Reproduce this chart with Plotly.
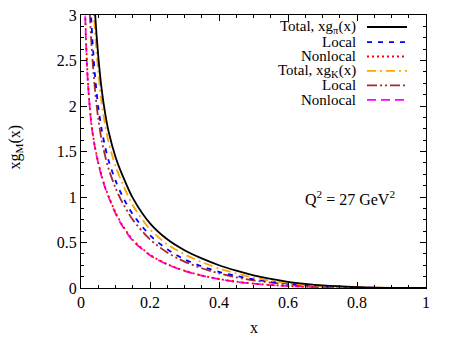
import plotly.graph_objects as go

X = [0.01, 0.015, 0.02, 0.03, 0.04, 0.05, 0.06, 0.07, 0.08, 0.10, 0.12, 0.15,
     0.20, 0.25, 0.30, 0.35, 0.40, 0.45, 0.50, 0.55, 0.60, 0.65, 0.70, 0.80, 0.90, 1.0]

total_pi = [10.0, 7.1, 5.6, 3.93, 3.07, 2.55, 2.18, 1.92, 1.72, 1.44, 1.24, 0.99,
            0.71, 0.535, 0.415, 0.325, 0.25, 0.19, 0.14, 0.10, 0.068, 0.045, 0.028, 0.010, 0.002, 0.0]
local_pi = [6.6, 4.9, 3.9, 2.93, 2.36, 1.99, 1.74, 1.55, 1.40, 1.18, 1.01, 0.81,
            0.58, 0.425, 0.315, 0.238, 0.178, 0.132, 0.096, 0.068, 0.047, 0.031, 0.019, 0.006, 0.001, 0.0]
nonlocal_pi = [3.35, 2.68, 2.27, 1.81, 1.56, 1.38, 1.23, 1.11, 1.01, 0.83, 0.69, 0.53,
               0.365, 0.262, 0.19, 0.137, 0.099, 0.07, 0.049, 0.033, 0.022, 0.014, 0.008, 0.0025, 0.0005, 0.0]
total_K = [9.0, 6.5, 5.0, 3.6, 2.85, 2.38, 2.03, 1.79, 1.60, 1.34, 1.15, 0.91,
           0.645, 0.48, 0.37, 0.285, 0.215, 0.16, 0.115, 0.08, 0.054, 0.035, 0.022, 0.007, 0.0015, 0.0]
local_K = [5.8, 4.4, 3.5, 2.7, 2.2, 1.86, 1.62, 1.45, 1.31, 1.10, 0.94, 0.75,
           0.535, 0.39, 0.29, 0.217, 0.161, 0.118, 0.085, 0.06, 0.041, 0.027, 0.017, 0.005, 0.001, 0.0]
nonlocal_K = [3.3, 2.65, 2.25, 1.8, 1.55, 1.37, 1.22, 1.10, 1.00, 0.82, 0.68, 0.52,
              0.36, 0.258, 0.188, 0.135, 0.097, 0.068, 0.047, 0.032, 0.021, 0.014, 0.008, 0.0025, 0.0005, 0.0]

labels = ["Total, xg<sub>π</sub>(x)", "Local", "Nonlocal",
          "Total, xg<sub>K</sub>(x)", "Local", "Nonlocal"]
x_ticks = [0, 0.2, 0.4, 0.6, 0.8, 1]
y_ticks = [0, 0.5, 1, 1.5, 2, 2.5, 3]

series = [total_pi, local_pi, nonlocal_pi, total_K, local_K, nonlocal_K]
colors = ["#000000", "#0000ff", "#ff0000", "#ffa500", "#a52a2a", "#ff00ff"]
dashes = ["solid", "5px,6px", "2px,3px", "9px,4px,2px,4px", "10px,3px,2px,3px,2px,3px", "9px,5px"]
widths = [1.8, 1.8, 1.8, 1.8, 1.8, 1.8]
order = [5, 2, 4, 1, 3, 0]

FONT = "Liberation Serif, Times New Roman, serif"
fig = go.Figure()
for i in order:
    fig.add_trace(go.Scatter(x=X, y=series[i], mode="lines", showlegend=False,
                             line=dict(color=colors[i], dash=dashes[i], width=widths[i],
                                       shape="spline", smoothing=0.8)))

# manual gnuplot-style legend
row_y = [0.956, 0.901, 0.848, 0.795, 0.742, 0.689]
for i, lab in enumerate(labels):
    fig.add_annotation(x=0.803, y=row_y[i], xref="paper", yref="paper", text=lab,
                       showarrow=False, xanchor="right", yanchor="middle",
                       font=dict(family=FONT, size=15, color="black"))
    fig.add_shape(type="line", xref="paper", yref="paper", x0=0.829, x1=0.945,
                  y0=row_y[i], y1=row_y[i],
                  line=dict(color=colors[i], dash=dashes[i], width=widths[i]))

fig.add_annotation(x=0.78, y=0.33, xref="paper", yref="paper",
                   text="Q<sup>2</sup> = 27 GeV<sup>2</sup>", showarrow=False,
                   xanchor="center", yanchor="middle",
                   font=dict(family=FONT, size=16, color="black"))

# axis titles
fig.add_annotation(x=0.5, y=-0.1465, xref="paper", yref="paper", text="x",
                   showarrow=False, xanchor="center", yanchor="middle",
                   font=dict(family=FONT, size=16, color="black"))
fig.add_annotation(x=-0.191, y=0.515, xref="paper", yref="paper",
                   text="xg<sub>M</sub>(x)", textangle=-90,
                   showarrow=False, xanchor="center", yanchor="middle",
                   font=dict(family=FONT, size=16, color="black"))

axis_common = dict(showgrid=False, zeroline=False, showline=True, linecolor="black",
                   linewidth=1, mirror="allticks", ticks="inside", ticklen=6,
                   tickcolor="black", tickwidth=1, automargin=False,
                   tickfont=dict(family=FONT, size=16, color="black"))
fig.update_xaxes(range=[0, 1], tickvals=x_ticks, ticktext=[str(v) for v in x_ticks],
                 minor=dict(dtick=0.05, ticks="inside", ticklen=3, tickcolor="black"),
                 **axis_common)
fig.update_yaxes(range=[0, 3], tickvals=y_ticks, ticktext=[str(v) for v in y_ticks],
                 minor=dict(dtick=0.125, ticks="inside", ticklen=3, tickcolor="black"),
                 **axis_common)
fig.update_layout(width=455, height=340, margin=dict(l=81, r=29, t=15, b=52),
                  plot_bgcolor="white", paper_bgcolor="white")
fig.write_html("out.html", config={"displayModeBar": False},
               post_script="document.body.style.margin='0';")
